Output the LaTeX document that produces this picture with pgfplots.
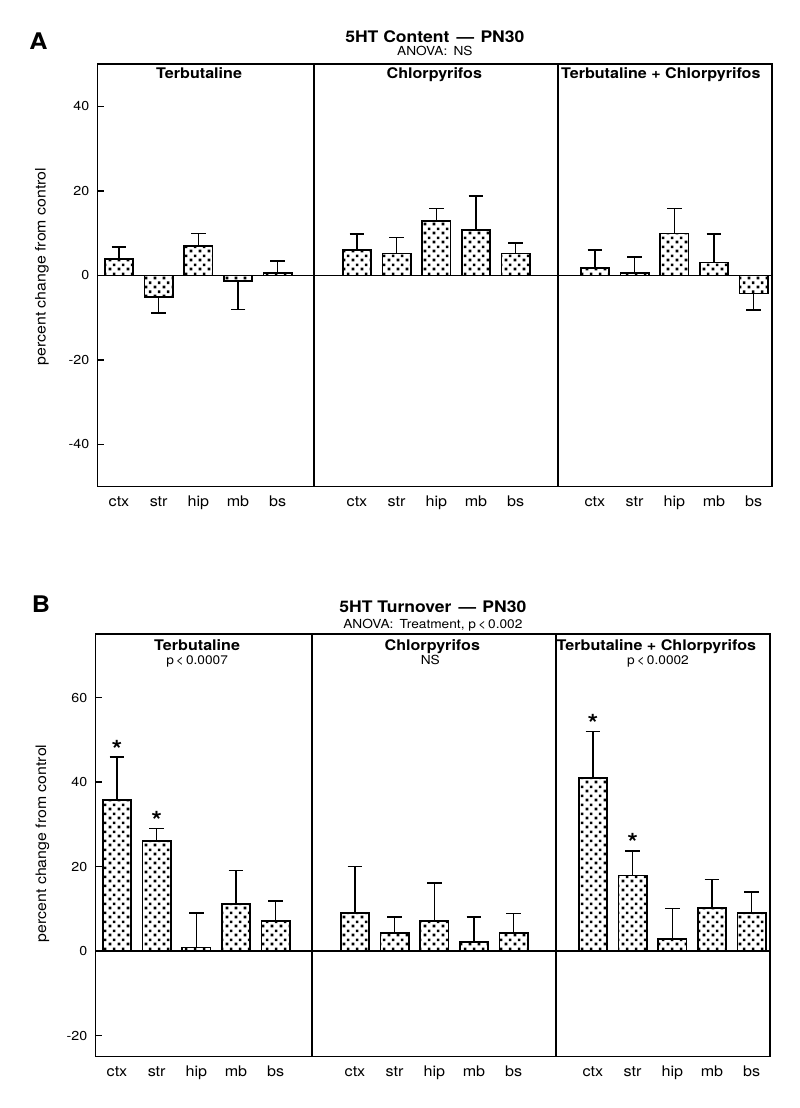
\documentclass[border=0pt]{standalone}
\usepackage{fontspec}
\setmainfont{TeX Gyre Heros}[FakeStretch=1.1]
\usepackage{pgfplots}
\pgfplotsset{compat=1.18}
\usetikzlibrary{patterns,calc}
\newcommand{\fs}[1]{\fontsize{#1}{#1}\selectfont}

\pgfdeclarepatternformonly{stipple}{\pgfqpoint{0bp}{0bp}}{\pgfqpoint{9bp}{9bp}}{\pgfqpoint{9bp}{9bp}}{%
  \pgfpathrectangle{\pgfqpoint{0.8bp}{0.8bp}}{\pgfqpoint{2.9bp}{2.9bp}}%
  \pgfpathrectangle{\pgfqpoint{5.3bp}{5.3bp}}{\pgfqpoint{2.9bp}{2.9bp}}%
  \pgfusepath{fill}}

\pgfplotsset{
  panel/.style={
    scale only axis, width=674.3bp, height=422.5bp,
    xmin=-0.537, xmax=16.463, clip=false,
    axis line style={line width=1.5bp, black},
    xtick={0,1,2,3,4,6,7,8,9,10,12,13,14,15,16},
    xticklabels={ctx,str,hip,mb,bs,ctx,str,hip,mb,bs,ctx,str,hip,mb,bs},
    x tick style={draw=none},
    xticklabel style={anchor=base, yshift=-19.3bp, font=\fs{14.7}},
    ytick pos=left, tick align=inside, major tick length=6bp,
    y tick style={line width=1.5bp, black},
    yticklabel style={font=\fs{13}, xshift=-5bp},
    extra x ticks={4.92,11.07}, extra x tick labels={},
    extra x tick style={grid=major, major grid style={black, line width=1.5bp}},
    extra y ticks={0}, extra y tick labels={},
    extra y tick style={grid=major, major grid style={black, line width=1.5bp}, major tick length=0pt},
  },
  bars/.style={ybar, bar width=0.71, bar shift=0pt, draw=black, line width=1.7bp,
    pattern=stipple, pattern color=black,
    error bars/y explicit,
    error bars/error bar style={line width=1.6bp, black},
    error bars/error mark options={rotate=90, line width=1.6bp, mark size=7.3bp, black}},
  stars/.style={draw=none, nodes near coords={\bfseries *},
    nodes near coords style={anchor=base, yshift=-1bp, inner sep=0pt, font=\fs{25}}},
}

\begin{document}
\begin{tikzpicture}
\path[use as bounding box] (0bp,0bp) rectangle (800bp,-1108bp);

% ---------------- Panel A ----------------
\begin{axis}[panel, at={(97.7bp,-486.7bp)}, anchor=south west,
  ymin=-50, ymax=50, ytick={-40,-20,0,20,40}, yticklabels={-40,-20,0,20,40}]
  % positive bars
  \addplot[bars, error bars/y dir=plus] coordinates {
    (0,3.9) +- (0,2.9)
    (2,6.9) +- (0,3.0)
    (4,0.5) +- (0,2.9)
    (6,6.1) +- (0,3.7)
    (7,5.2) +- (0,3.8)
    (8,12.9) +- (0,2.9)
    (9,10.8) +- (0,8.0)
    (10,5.2) +- (0,2.5)
    (12,1.8) +- (0,4.2)
    (13,0.5) +- (0,3.8)
    (14,9.9) +- (0,5.9)
    (15,3.1) +- (0,6.7)
  };
  % negative bars
  \addplot[bars, error bars/y dir=minus] coordinates {
    (1,-5.1) +- (0,3.8)
    (3,-1.35) +- (0,6.75)
    (16,-4.3) +- (0,3.9)
  };
  \node[anchor=base, font=\bfseries\fs{16}] at ($(rel axis cs:0.5,1)+(0bp,21.6bp)$) {5HT Content\hspace{0.45em}—\hspace{0.4em}PN30};
  \node[anchor=base, font=\fs{12.5}] at ($(rel axis cs:0.5,1)+(0bp,8.3bp)$) {ANOVA:\enspace NS};
  \node[anchor=base west, inner sep=0pt, font=\bfseries\fs{23}] at ($(rel axis cs:0,1)+(-68.4bp,14.3bp)$) {A};
  \node[anchor=base, font=\bfseries\fs{14.7}] at ($(axis cs:2.02,50)+(0bp,-14bp)$) {Terbutaline};
  \node[anchor=base, font=\bfseries\fs{14.7}] at ($(axis cs:7.95,50)+(0bp,-14bp)$) {Chlorpyrifos};
  \node[anchor=base, font=\bfseries\fs{14.7}] at ($(axis cs:13.66,50)+(0bp,-14bp)$) {Terbutaline + Chlorpyrifos};
  \node[rotate=90, anchor=center, font=\fs{14.5}] at ($(rel axis cs:0,0.521)+(-55.7bp,0bp)$) {percent change from control};
\end{axis}

% ---------------- Panel B ----------------
\begin{axis}[panel, at={(95.7bp,-1056.7bp)}, anchor=south west,
  ymin=-25, ymax=75, ytick={-20,0,20,40,60}, yticklabels={-20,0,20,40,60}]
  \addplot[bars, error bars/y dir=plus] coordinates {
    (0,35.8) +- (0,10.1)
    (1,26.0) +- (0,3.0)
    (2,0.85) +- (0,8.15)
    (3,11.1) +- (0,8.0)
    (4,7.2) +- (0,4.7)
    (6,9.0) +- (0,11.0)
    (7,4.3) +- (0,3.7)
    (8,7.2) +- (0,8.9)
    (9,2.1) +- (0,5.9)
    (10,4.3) +- (0,4.6)
    (12,40.9) +- (0,11.1)
    (13,17.9) +- (0,5.8)
    (14,2.9) +- (0,7.2)
    (15,10.2) +- (0,6.7)
    (16,9.0) +- (0,5.0)
  };
  \addplot[stars] coordinates {(0,45.9) (1,29.0) (12,52.0) (13,23.7)};
  \node[anchor=base, font=\bfseries\fs{16}] at ($(rel axis cs:0.5,1)+(0bp,21.7bp)$) {5HT Turnover\hspace{0.45em}—\hspace{0.4em}PN30};
  \node[anchor=base, font=\fs{12.5}] at ($(rel axis cs:0.5,1)+(0bp,5.7bp)$) {ANOVA:\enspace Treatment, p\,<\,0.002};
  \node[anchor=base west, inner sep=0pt, font=\bfseries\fs{23}] at ($(rel axis cs:0,1)+(-64bp,21.3bp)$) {B};
  \node[anchor=base, font=\bfseries\fs{14.7}] at ($(axis cs:2.02,75)+(0bp,-16bp)$) {Terbutaline};
  \node[anchor=base, font=\fs{12.5}] at ($(axis cs:2.02,75)+(0bp,-30bp)$) {p\,<\,0.0007};
  \node[anchor=base, font=\bfseries\fs{14.7}] at ($(axis cs:7.95,75)+(0bp,-16bp)$) {Chlorpyrifos};
  \node[anchor=base, font=\fs{12.5}] at ($(axis cs:7.9,75)+(0bp,-30bp)$) {NS};
  \node[anchor=base, font=\bfseries\fs{14.7}] at ($(axis cs:13.6,75)+(0bp,-16bp)$) {Terbutaline + Chlorpyrifos};
  \node[anchor=base, font=\fs{12.5}] at ($(axis cs:13.64,75)+(0bp,-30bp)$) {p\,<\,0.0002};
  \node[rotate=90, anchor=center, font=\fs{14.5}] at ($(rel axis cs:0,0.505)+(-53.2bp,0bp)$) {percent change from control};
\end{axis}
\end{tikzpicture}
\end{document}
